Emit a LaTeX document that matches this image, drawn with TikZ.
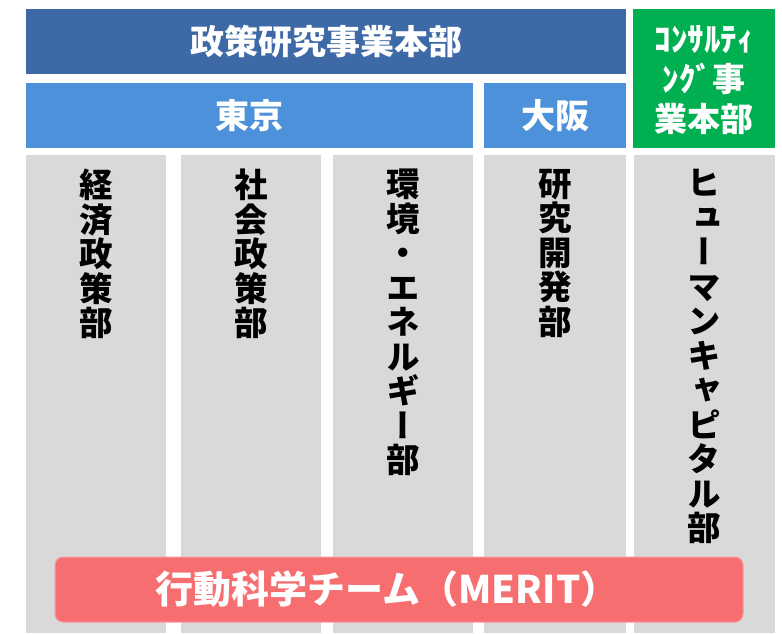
\documentclass[tikz,border=0pt]{standalone}
\usepackage{fontspec}
\newfontfamily\jp{Noto Sans CJK JP}
\newfontfamily\jpv{Noto Sans CJK JP}[RawFeature=+vert]
\definecolor{hqblue}{HTML}{3E69A7}
\definecolor{cityblue}{HTML}{4C91D9}
\definecolor{consgreen}{HTML}{00B050}
\definecolor{deptgrey}{HTML}{D9D9D9}
\definecolor{meritred}{HTML}{F76E70}
\definecolor{meritedge}{HTML}{FA9A9B}
\begin{document}
\begin{tikzpicture}[x=1pt,y=-1pt,
  blk/.style={rectangle, inner sep=0pt, outer sep=0pt, text=white, align=center},
  hdfont/.style={font=\jp\bfseries\fontsize{34}{40}\selectfont},
  dept/.style={rectangle, inner sep=0pt, outer sep=0pt, fill=deptgrey, minimum height=478pt},
  vtext/.style={anchor=north, inner sep=0pt, align=center, text=black,
    font=\jpv\bfseries\fontsize{33.5}{34.5}\selectfont}]
\useasboundingbox (0,0) rectangle (782,633);
% headers
\node[blk, hdfont, fill=hqblue, minimum width=600pt, minimum height=65pt] (hq) at (326,41.5) {政策研究事業本部};
\node[blk, hdfont, fill=cityblue, minimum width=447pt, minimum height=65pt] (tokyo) at (249.5,115.5) {東京};
\node[blk, hdfont, fill=cityblue, minimum width=142pt, minimum height=65pt] (osaka) at (555,115.5) {大阪};
\node[blk, fill=consgreen, minimum width=142pt, minimum height=139pt] (cons) at (704,78.5) {};
\node[blk, font=\jp\bfseries\fontsize{33}{40}\selectfont] (constext) at (704,80.5) {ｺﾝｻﾙﾃｨ\\ﾝｸﾞ事\\業本部};
% department columns
\node[dept, minimum width=140pt] (d1) at (96,394) {};
\node[dept, minimum width=140pt] (d2) at (251,394) {};
\node[dept, minimum width=140pt] (d3) at (403,394) {};
\node[dept, minimum width=142pt] (d4) at (555,394) {};
\node[dept, minimum width=141pt] (d5) at (704.5,394) {};
\node[vtext] (t1) at (96,169) {経\\済\\政\\策\\部};
\node[vtext] (t2) at (251,169) {社\\会\\政\\策\\部};
\node[vtext] (t3) at (403,169) {環\\境\\・\\エ\\ネ\\ル\\ギ\\ー\\部};
\node[vtext] (t4) at (555,169) {研\\究\\開\\発\\部};
\node[vtext] (t5) at (704.5,169) {ヒ\\ュ\\ー\\マ\\ン\\キ\\ャ\\ピ\\タ\\ル\\部};
% MERIT bar
\node[rectangle, rounded corners=8pt, fill=meritred, draw=meritedge, line width=1pt,
  minimum width=688pt, minimum height=65pt, inner sep=0pt] (merit) at (399,589.5) {};
\node[blk, font=\jp\bfseries\fontsize{38}{40}\selectfont] (merittext) at (387,589.5) {行動科学チーム（MERIT）};
\end{tikzpicture}
\end{document}
